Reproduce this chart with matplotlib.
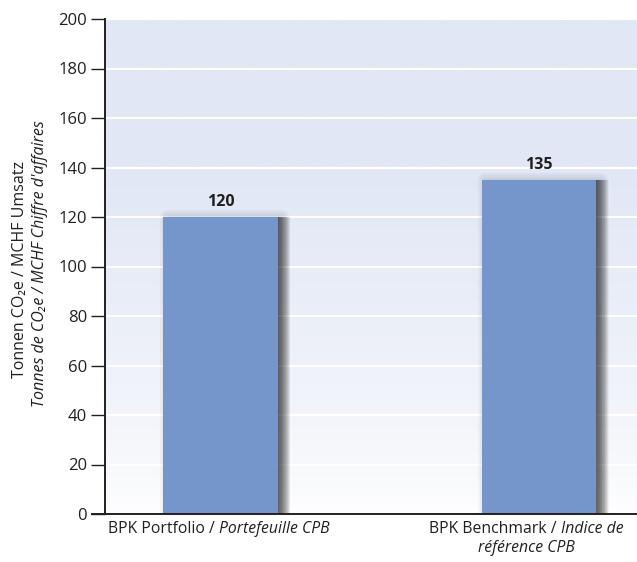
import matplotlib.pyplot as plt
import matplotlib.patheffects as pe
import numpy as np
from matplotlib.colors import to_rgb
from matplotlib.offsetbox import TextArea, HPacker, VPacker, AnnotationBbox

plt.rcParams['font.family'] = ['Open Sans', 'DejaVu Sans']

# Data
categories = ["BPK Portfolio", "BPK Benchmark"]
values = [120, 135]
label_de = ["BPK Portfolio /", "BPK Benchmark /"]
label_fr = [["Portefeuille CPB"], ["Indice de", "référence CPB"]]
yticks = [0, 20, 40, 60, 80, 100, 120, 140, 160, 180, 200]

text_col = '#231f20'
bar_col = '#7596cb'
bg_top = '#e1e7f5'


class SoftEdge(pe.AbstractPathEffect):
    """Translucent black outline drawn at an offset (one layer of a blurred shadow)."""

    def __init__(self, offset, lw, alpha):
        super().__init__(offset)
        self.lw = lw
        self.alpha = alpha

    def draw_path(self, renderer, gc, tpath, affine, rgbFace):
        gc0 = renderer.new_gc()
        gc0.copy_properties(gc)
        gc0.set_foreground('k')
        gc0.set_alpha(self.alpha)
        gc0.set_linewidth(self.lw)
        gc0.set_joinstyle('round')
        renderer.draw_path(gc0, tpath, affine + self._offset_transform(renderer), None)
        gc0.restore()


fig = plt.figure(figsize=(6.37, 5.62), dpi=100)
ax = fig.add_axes([105 / 637, 48 / 562, 532 / 637, 495 / 562])

# background gradient (white at bottom, light blue at top)
t = np.linspace(0, 1, 256)
w = np.clip(t / 0.7, 0, 1) ** 0.7
top = np.array(to_rgb(bg_top))
grad = (1 - w)[:, None] * np.ones(3) + w[:, None] * top
grad = np.repeat(grad[:, None, :], 2, axis=1)
ax.imshow(grad, extent=[0, 1, 0, 1], transform=ax.transAxes, origin='lower',
          aspect='auto', zorder=0)

x = np.arange(len(categories))
# shadow: stacked fills shifted right (dark near the bar) + faint halo on top
shadow = ([SoftEdge((2.5, 0), lw, 0.03) for lw in [11, 8, 5, 2]]
          + [pe.SimplePatchShadow(offset=(o, 0), shadow_rgbFace='k', alpha=0.042)
             for o in np.arange(0.5, 9.5, 0.5)]
          + [pe.Normal()])
bars = ax.bar(x, values, width=0.36, color=bar_col, zorder=2)
for b in bars:
    b.set_path_effects(shadow)

for xi, v in zip(x, values):
    ax.annotate(str(v), (xi, v), xytext=(0, 5), textcoords='offset points',
                ha='center', va='bottom', fontsize=11.5, fontweight='bold',
                color=text_col, zorder=3)

ax.set_xlim(-0.363, 1.308)
ax.set_ylim(0, 200)
ax.set_yticks(yticks)
ax.tick_params(axis='y', length=10, width=1, color=text_col, labelsize=12,
               labelcolor=text_col, pad=3)
ax.set_xticks([])
ax.yaxis.grid(True, color='white', linewidth=1.5)
ax.set_axisbelow(True)
for s in ['top', 'right']:
    ax.spines[s].set_visible(False)
for s in ['left', 'bottom']:
    ax.spines[s].set_linewidth(1.4)
    ax.spines[s].set_color(text_col)
    ax.spines[s].set_zorder(4)
ax.spines['bottom'].set_bounds(-0.405, 1.308)

# x labels: German normal, French italic
tp = dict(fontsize=11.3, color=text_col)
tpi = dict(fontsize=11.3, color=text_col, style='italic')
label_shift = [-1, -9]
for xi, de, fr, dx in zip(x, label_de, label_fr, label_shift):
    line1 = HPacker(children=[TextArea(de, textprops=tp), TextArea(fr[0], textprops=tpi)],
                    pad=0, sep=3, align='baseline')
    rows = [line1] + [TextArea(s, textprops=tpi) for s in fr[1:]]
    box = VPacker(children=rows, pad=0, sep=2, align='center')
    ab = AnnotationBbox(box, (xi, 0), xycoords=('data', 'axes fraction'),
                        xybox=(dx, -5), boxcoords='offset points',
                        box_alignment=(0.5, 1), frameon=False, annotation_clip=False)
    ax.add_artist(ab)

# y label, two lines
fig.text(20 / 637, 1 - 269 / 562, "Tonnen CO₂e / MCHF Umsatz", rotation=90,
         ha='center', va='center', fontsize=11.5, color=text_col)
fig.text(40 / 637, 1 - 264 / 562, "Tonnes de CO₂e / MCHF Chiffre d'affaires",
         rotation=90, ha='center', va='center', fontsize=11.5, color=text_col,
         style='italic')

fig.savefig('out.png', dpi=100)
